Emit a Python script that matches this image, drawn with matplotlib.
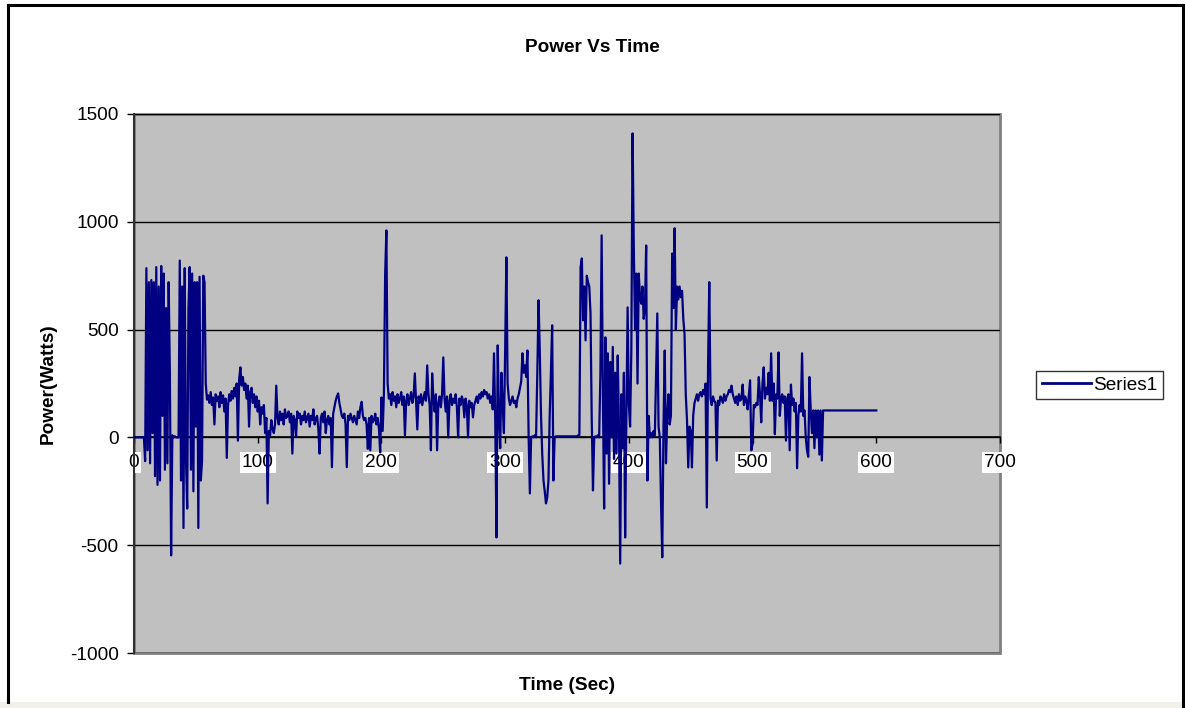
import numpy as np
import matplotlib
matplotlib.use('Agg')
import matplotlib.pyplot as plt
from matplotlib.patches import Rectangle
from matplotlib.lines import Line2D

plt.rcParams['font.family'] = ['Liberation Sans', 'DejaVu Sans']
plt.rcParams['axes.unicode_minus'] = False

# power samples, one per second from t = 0
power_watts = [
    0, 0, 0, 0, 0, 0, 0, 0, 0, -110,
    785, -60, 720, -120, 730, 20, 720, -180, 790, -220,
    700, -200, 795, 100, 760, -150, 600, -120, 720, 300,
    -547, 10, 0, 5, 0, 0, 0, 820, -200, 700,
    -420, 785, -100, -330, 600, 790, -150, 760, -250, 720,
    50, 720, -420, 745, -200, -110, 750, 720, 250, 175,
    195, 160, 210, 150, 185, 60, 200, 170, 190, 140,
    210, 160, 195, 120, 180, -95, 150, 200, 170, 215,
    180, 230, 190, 250, -15, 270, 325, 240, 280, 220,
    250, 180, 240, 50, 210, 230, 160, 200, 140, 190,
    120, 170, 60, 140, 110, 150, 20, 90, -306, 30,
    10, 80, 40, 20, 60, 240, 90, 60, 120, 80,
    110, 60, 130, 90, 100, 120, 70, 110, -75, 100,
    80, 5, 120, 90, 110, 60, 100, 80, 120, 70,
    90, 110, 50, 100, 80, 130, 60, 90, 100, 40,
    -75, 90, 110, 70, 120, 20, 80, 100, 60, 90,
    -138, 110, 140, 170, 190, 204, 160, 130, 100, 90,
    110, 60, -138, 100, 80, 110, 90, 70, 100, 80,
    60, 120, 90, 140, 165, 100, 80, 90, 60, -53,
    90, -60, 100, 70, 80, 110, 60, 90, 40, -70,
    185, 30, 200, 750, 960, 250, 180, 200, 150, 210,
    170, 190, 140, 200, 160, 180, 210, 150, 190, 10,
    170, 200, 150, 180, 210, 160, 190, 297, 170, 37,
    190, 160, 200, 150, 180, 210, 170, 334, 200, 150,
    -60, 297, 180, 120, 200, -60, 160, 190, 140, 200,
    371, 180, 120, 190, 0, 170, 200, 150, 180, 160,
    200, 140, 0, 180, 150, 190, 170, 93, 180, 150,
    0, 170, 140, 160, 93, 150, 170, 190, 160, 200,
    180, 210, 190, 220, 200, 210, 180, 200, 160, 190,
    130, 390, 80, -464, 427, 100, -50, 300, 150, 20,
    400, 835, 250, 180, 150, 170, 190, 160, 170, 140,
    180, 200, 230, 260, 390, 300, 334, 280, 403, 0,
    -260, 0, 5, 0, 10, 0, 300, 636, 400, 100,
    -80, -200, -250, -306, -280, -200, 100, 300, 520, -200,
    0, 5, 5, 5, 5, 5, 5, 5, 5, 5,
    5, 5, 5, 5, 5, 5, 5, 5, 5, 10,
    10, 790, 830, 543, 700, 450, 750, 720, 700, 575,
    80, -246, 0, 5, 0, 10, 0, 300, 937, 200,
    -330, 464, -75, 390, -215, 350, 0, 420, -100, 300,
    -75, 380, 50, -585, 200, -50, 300, -464, 100, 603,
    150, 50, 400, 1410, 880, 500, 760, 250, 760, 650,
    620, 700, 550, 600, 890, -200, 100, 0, 20, 0,
    30, 10, 300, 575, 50, 0, -300, -556, 50, 403,
    -120, 100, 200, 60, 100, 853, 600, 970, 500, 700,
    640, 700, 650, 680, 550, 480, 200, 80, -139, 50,
    30, -139, 100, 158, 180, 200, 170, 200, 210, 190,
    220, 200, 250, -325, 325, 720, 180, 150, 190, 170,
    160, -107, 170, 150, 190, 180, 160, 200, 170, 190,
    200, 220, 210, 240, 200, 180, 160, 190, 150, 200,
    170, 180, 245, 150, 190, 170, 130, 200, 265, -60,
    -30, 150, 140, 160, 150, 280, 200, 70, 250, 325,
    180, 230, 200, 300, 170, 390, 170, 250, 15, 200,
    180, 394, 100, 180, 200, 160, 190, -15, 180, 200,
    -60, 245, 150, 180, 120, 160, -143, 100, 150, 120,
    390, 100, 125, 0, -60, -90, 280, 125, 20, 125,
    -50, 125, 0, 125, -80, 125, -107, 125, 125, 125,
    125, 125, 125, 125, 125, 125, 125, 125, 125, 125,
    125, 125, 125, 125, 125, 125, 125, 125, 125, 125,
    125, 125, 125, 125, 125, 125, 125, 125, 125, 125,
    125, 125, 125, 125, 125, 125, 125, 125, 125, 125,
    125,
]
seconds = np.arange(len(power_watts))

x_ticks = [0, 100, 200, 300, 400, 500, 600, 700]
y_ticks = [-1000, -500, 0, 500, 1000, 1500]

FS = 13.7
W, H = 1185, 708
fig = plt.figure(figsize=(W / 100, H / 100), dpi=100)
fig.patch.set_facecolor('white')

# outer frame of the chart object
fig.add_artist(Rectangle((0, 0), 1, 6 / H, transform=fig.transFigure,
                         facecolor='#f1f0ea', edgecolor='none'))
fig.add_artist(Line2D([8 / W, 8 / W], [6 / H, 1 - 5 / H], transform=fig.transFigure,
                      color='black', lw=2.2))
fig.add_artist(Line2D([8 / W, 1183 / W], [1 - 5 / H, 1 - 5 / H], transform=fig.transFigure,
                      color='black', lw=2.2))
fig.add_artist(Line2D([1183 / W, 1183 / W], [0, 1 - 5 / H], transform=fig.transFigure,
                      color='black', lw=2.2))

ax = fig.add_axes([134 / W, 1 - 653 / H, (1000 - 134) / W, (653 - 114) / H])
ax.set_facecolor('#c0c0c0')

ax.plot(seconds, power_watts, color='#000080', lw=1.6, label='Series1', zorder=3)

ax.set_xlim(0, 700)
ax.set_ylim(-1000, 1500)
ax.set_xticks(x_ticks)
ax.set_yticks(y_ticks)
ax.yaxis.grid(True, color='black', lw=1.0)
ax.set_axisbelow(True)

# x axis crosses at zero
for side in ['top', 'right']:
    ax.spines[side].set_visible(False)
ax.spines['bottom'].set_position(('data', 0))
ax.spines['bottom'].set_color('black')
ax.spines['bottom'].set_linewidth(1.2)
ax.spines['left'].set_color('#303030')
ax.spines['left'].set_linewidth(1.5)
ax.add_patch(Rectangle((0, 0), 1, 1, transform=ax.transAxes, fill=False,
                       edgecolor='#808080', lw=2, clip_on=False, zorder=0.5))

ax.tick_params(axis='x', direction='out', length=4, width=1, pad=8, labelsize=FS)
ax.tick_params(axis='y', direction='out', length=5, width=1, pad=6, labelsize=FS)
for lab in ax.get_xticklabels():
    lab.set_bbox(dict(facecolor='white', edgecolor='none', pad=1.5))

fig.text(0.5, 1 - 47 / H, 'Power Vs Time', ha='center', va='center',
         fontsize=FS, fontweight='bold')
fig.text(567 / W, 1 - 686 / H, 'Time (Sec)', ha='center', va='center',
         fontsize=FS, fontweight='bold')
fig.text(48 / W, 1 - 384 / H, 'Power(Watts)', ha='center', va='center',
         rotation=90, fontsize=FS, fontweight='bold')

leg = fig.legend(loc='center left', bbox_to_anchor=(1036 / W, 1 - 385 / H),
                 fontsize=FS, frameon=True, fancybox=False, handlelength=2.6,
                 handletextpad=0.12, borderpad=0.3, borderaxespad=0)
leg.get_frame().set_edgecolor('black')
leg.get_frame().set_linewidth(1.0)
for line in leg.get_lines():
    line.set_linewidth(2)

plt.savefig('out.png', dpi=100)
